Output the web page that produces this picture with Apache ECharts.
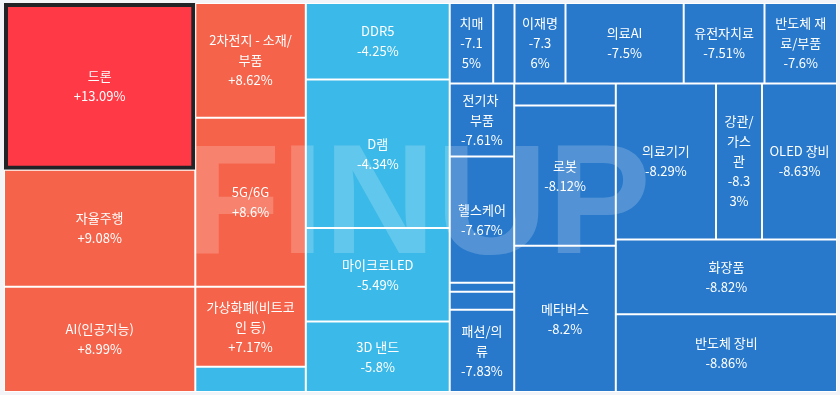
<!DOCTYPE html>
<html>
<head>
<meta charset="utf-8">
<script src="https://cdn.jsdelivr.net/npm/echarts@6/dist/echarts.min.js"></script>
<style>
  html, body { margin: 0; padding: 0; background: #f2f4f8; }
  #chart { width: 840px; height: 395px; }
</style>
</head>
<body>
<div id="chart"></div>
<script>
// Theme names (empty = unlabeled small tiles)
const names = ['드론', '자율주행', 'AI(인공지능)', '2차전지 - 소재/부품', '5G/6G', '가상화폐(비트코인 등)', '',
  'DDR5', 'D램', '마이크로LED', '3D 낸드',
  '치매', '', '이재명', '의료AI', '유전자치료', '반도체 재료/부품',
  '전기차 부품', '헬스케어', '', '', '패션/의류',
  '', '로봇', '메타버스',
  '의료기기', '강관/가스관', 'OLED 장비',
  '화장품', '반도체 장비'];
// Daily change in %
const changes = [13.09, 9.08, 8.99, 8.62, 8.6, 7.17, -3.9,
  -4.25, -4.34, -5.49, -5.8,
  -7.15, -7.2, -7.36, -7.5, -7.51, -7.6,
  -7.61, -7.67, -7.7, -7.8, -7.83,
  -8.0, -8.12, -8.2,
  -8.29, -8.33, -8.63,
  -8.82, -8.86];
// Tile weights (relative size)
const sizes = [31890, 22344, 20125, 12674, 18652, 8829, 2796,
  11008, 21355, 13426, 10145,
  3497, 1713, 4100, 9503, 6496, 5829,
  4715, 8127, 574, 1161, 5308,
  2245, 14224, 14854,
  15631, 7176, 11700,
  16479, 17209];
const highlighted = '드론';

const LABEL_FONT_SIZE = 13;
const LABEL_FONT_FAMILY = '"Noto Sans CJK KR", "Noto Sans", sans-serif';
const LABEL_PAD = 5;
const NARROW_WIDTH = 56;

function colorFor(c) {
  if (c >= 10) return '#ff3a46';
  if (c > 0) return '#f5634a';
  if (c > -7) return '#3bb9e8';
  return '#2879cb';
}
function fmt(c) {
  return (c > 0 ? '+' : '') + c + '%';
}

const measureCtx = document.createElement('canvas').getContext('2d');
measureCtx.font = LABEL_FONT_SIZE + 'px ' + LABEL_FONT_FAMILY;
function charW(ch) { return measureCtx.measureText(ch).width; }
// character-level wrap used for the narrowest tiles
function wrapChars(str, w) {
  const lines = [];
  let line = '';
  let acc = 0;
  for (const ch of str) {
    const cw = charW(ch);
    if (line && acc + cw > w) {
      lines.push(line.trim());
      line = ch === ' ' ? '' : ch;
      acc = ch === ' ' ? 0 : cw;
    } else {
      line += ch;
      acc += cw;
    }
  }
  if (line.trim()) lines.push(line.trim());
  return lines;
}

const tileWidth = {};

function buildData() {
  return names.map((n, i) => {
    const item = {
      name: n,
      value: sizes[i],
      change: changes[i],
      itemStyle: { color: colorFor(changes[i]) }
    };
    if (n === highlighted) {
      item.itemStyle.borderColor = '#222326';
      item.itemStyle.borderWidth = 4;
    }
    if (!n) item.label = { show: false };
    else if (tileWidth[n] != null && tileWidth[n] < NARROW_WIDTH) item.label = { overflow: 'none' };
    return item;
  });
}

function labelText(p) {
  const valueText = fmt(p.data.change);
  const tw = tileWidth[p.name];
  if (tw != null && tw < NARROW_WIDTH) {
    const w = tw - 2 - 2 * LABEL_PAD;
    const nameLines = wrapChars(p.name, w + 1);
    const valueLines = valueText.length > 4 ? [valueText.slice(0, 4), valueText.slice(4)] : [valueText];
    return nameLines.concat(valueLines).join('\n');
  }
  return p.name + '\n' + valueText;
}

const chart = echarts.init(document.getElementById('chart'), null, { renderer: 'canvas' });

function render() {
  chart.setOption({
    backgroundColor: '#f2f4f8',
    animation: false,
    tooltip: { show: false },
    graphic: [{
      id: 'wm',
      type: 'text',
      z: 100,
      silent: true,
      x: 186,
      y: 210,
      style: {
        text: 'FINUP',
        font: 'bold 155px "Liberation Sans", Arial, sans-serif',
        fill: 'rgba(255,255,255,0.2)',
        align: 'left',
        verticalAlign: 'middle'
      }
    }],
    series: [{
      type: 'treemap',
      left: 4, top: 3, right: 3, bottom: 3,
      roam: false,
      nodeClick: false,
      sort: false,
      squareRatio: 0.5 * (1 + Math.sqrt(5)),
      breadcrumb: { show: false },
      visibleMin: 0,
      emphasis: { disabled: true },
      levels: [
        { itemStyle: { borderWidth: 0, gapWidth: 0 } },
        { itemStyle: { borderWidth: 1, borderColor: '#ffffff', gapWidth: 0 } }
      ],
      label: {
        show: true,
        position: 'inside',
        color: '#ffffff',
        fontSize: LABEL_FONT_SIZE,
        lineHeight: 20,
        fontFamily: LABEL_FONT_FAMILY,
        padding: LABEL_PAD,
        overflow: 'breakAll',
        align: 'center',
        verticalAlign: 'middle',
        formatter: labelText
      },
      data: buildData()
    }]
  }, { replaceMerge: ['series'] });
}

render();
// second pass: read the library's tile layout and treat the narrowest tiles specially
try {
  const sData = chart.getModel().getSeriesByIndex(0).getData();
  sData.each(idx => {
    const nm = sData.getName(idx);
    const lay = sData.getItemLayout(idx);
    if (nm && lay && lay.width != null) tileWidth[nm] = lay.width;
  });
  render();
} catch (e) { /* keep first pass */ }
</script>
</body>
</html>
